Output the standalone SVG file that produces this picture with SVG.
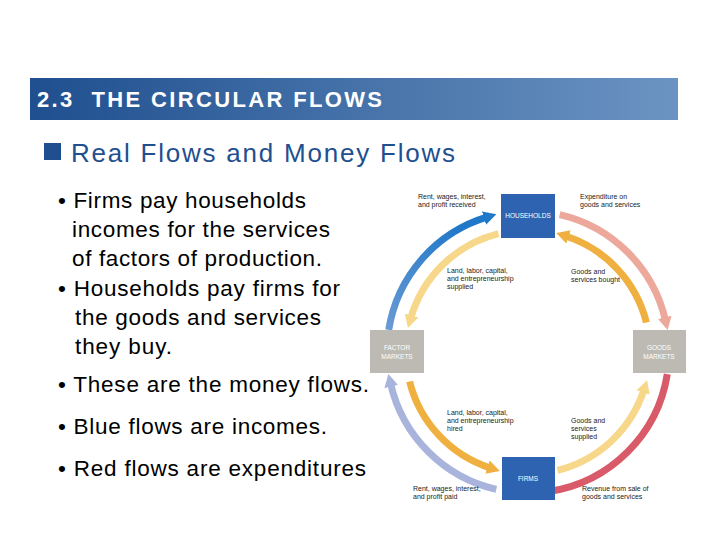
<svg xmlns="http://www.w3.org/2000/svg" width="720" height="540" viewBox="0 0 720 540">
<defs>
<linearGradient id="bar" x1="0" y1="0" x2="1" y2="0"><stop offset="0" stop-color="#1f4f8f"/><stop offset="1" stop-color="#6b94c2"/></linearGradient>
<linearGradient id="blueg" x1="0" y1="1" x2="0.6" y2="0"><stop offset="0" stop-color="#6a9ad4"/><stop offset="1" stop-color="#1f78c8"/></linearGradient>
<marker id="mBlue" markerUnits="userSpaceOnUse" markerWidth="14" markerHeight="14" refX="3" refY="7" orient="auto"><path d="M0,0 L13,7 L0,14 z" fill="#1f78c8"/></marker>
<marker id="mPink" markerUnits="userSpaceOnUse" markerWidth="14" markerHeight="14" refX="3" refY="7" orient="auto"><path d="M0,0 L13,7 L0,14 z" fill="#eda89c"/></marker>
<marker id="mRed" markerUnits="userSpaceOnUse" markerWidth="14" markerHeight="14" refX="3" refY="7" orient="auto"><path d="M0,0 L13,7 L0,14 z" fill="#d95a68"/></marker>
<marker id="mLav" markerUnits="userSpaceOnUse" markerWidth="14" markerHeight="14" refX="3" refY="7" orient="auto"><path d="M0,0 L13,7 L0,14 z" fill="#a8b4dc"/></marker>
<marker id="mLY" markerUnits="userSpaceOnUse" markerWidth="14" markerHeight="14" refX="3" refY="7" orient="auto"><path d="M0,0 L13,7 L0,14 z" fill="#f7d88a"/></marker>
<marker id="mOr" markerUnits="userSpaceOnUse" markerWidth="14" markerHeight="14" refX="3" refY="7" orient="auto"><path d="M0,0 L13,7 L0,14 z" fill="#efb040"/></marker>
</defs>
<style>
.body{font-family:"Liberation Sans",Arial,sans-serif;font-size:22.5px;fill:#000}
.lab{font-family:"Liberation Sans",Arial,sans-serif;font-size:7px;fill:#222}
.box{font-family:"Liberation Sans",Arial,sans-serif;font-size:6.5px;fill:#fff;text-anchor:middle}
.arc{fill:none;stroke-width:7}
</style>
<rect x="0" y="0" width="720" height="540" fill="#fff"/>
<rect x="30" y="78" width="648" height="42" fill="url(#bar)"/>
<text x="37" y="107" font-family="Liberation Sans,Arial,sans-serif" font-size="22" font-weight="bold" fill="#fff" textLength="345" lengthAdjust="spacing" xml:space="preserve">2.3  THE CIRCULAR FLOWS</text>
<rect x="44" y="143" width="17" height="17" fill="#1f4f8f"/>
<text x="71" y="162" font-family="Liberation Sans,Arial,sans-serif" font-size="26" fill="#1f4f8f" textLength="384" lengthAdjust="spacing">Real Flows and Money Flows</text>
<text class="body" x="58" y="208" textLength="248" lengthAdjust="spacing">• Firms pay households</text>
<text class="body" x="72" y="237" textLength="258" lengthAdjust="spacing">incomes for the services</text>
<text class="body" x="72" y="266" textLength="250" lengthAdjust="spacing">of factors of production.</text>
<text class="body" x="58" y="296" textLength="282" lengthAdjust="spacing">• Households pay firms for</text>
<text class="body" x="75" y="325" textLength="246" lengthAdjust="spacing">the goods and services</text>
<text class="body" x="75" y="354" textLength="97" lengthAdjust="spacing">they buy.</text>
<text class="body" x="58" y="392" textLength="311" lengthAdjust="spacing">• These are the money flows.</text>
<text class="body" x="58" y="434" textLength="269" lengthAdjust="spacing">• Blue flows are incomes.</text>
<text class="body" x="58" y="476" textLength="308" lengthAdjust="spacing">• Red flows are expenditures</text>
<g id="connectors">
<path class="arc" stroke="url(#blueg)" marker-end="url(#mBlue)" d="M388.7,329.9 A141,141 0 0 1 486.8,217.2"/>
<path class="arc" stroke="#eda89c" marker-end="url(#mPink)" d="M559.7,214.6 A141,141 0 0 1 665.4,320.3"/>
<path class="arc" stroke="#d95a68" marker-end="url(#mRed)" d="M667.3,374.1 A141,141 0 0 1 550.1,491.3"/>
<path class="arc" stroke="#a8b4dc" marker-end="url(#mLav)" d="M496.3,489.4 A141,141 0 0 1 390.6,383.7"/>
<path class="arc" stroke="#f7d88a" marker-end="url(#mLY)" d="M498.5,233.6 A122,122 0 0 0 410.7,318.4"/>
<path class="arc" stroke="#efb040" marker-end="url(#mOr)" d="M646.4,322.5 A122,122 0 0 0 565.7,236.0"/>
<path class="arc" stroke="#efb040" marker-end="url(#mOr)" d="M409.6,381.5 A122,122 0 0 0 490.3,468.0"/>
<path class="arc" stroke="#f7d88a" marker-end="url(#mLY)" d="M557.5,470.4 A122,122 0 0 0 644.0,389.7"/>
</g>
<g id="households"><rect x="501" y="194" width="54" height="44" fill="#2d63b0"/><text class="box" x="528" y="218">HOUSEHOLDS</text></g>
<g id="firms"><rect x="502" y="457" width="53" height="43" fill="#2d63b0"/><text class="box" x="528" y="481">FIRMS</text></g>
<g id="factor"><rect x="370" y="330" width="54" height="43" fill="#bcbab3"/><text class="box" x="397" y="350">FACTOR</text><text class="box" x="397" y="359">MARKETS</text></g>
<g id="goods"><rect x="633" y="330" width="53" height="43" fill="#bcbab3"/><text class="box" x="659" y="350">GOODS</text><text class="box" x="659" y="359">MARKETS</text></g>
<g id="labels">
<text class="lab" x="418" y="199">Rent, wages, interest,</text><text class="lab" x="418" y="207">and profit received</text>
<text class="lab" x="580" y="199">Expenditure on</text><text class="lab" x="580" y="207">goods and services</text>
<text class="lab" x="447" y="273">Land, labor, capital,</text><text class="lab" x="447" y="281">and entrepreneurship</text><text class="lab" x="447" y="289">supplied</text>
<text class="lab" x="571" y="274">Goods and</text><text class="lab" x="571" y="282">services bought</text>
<text class="lab" x="447" y="415">Land, labor, capital,</text><text class="lab" x="447" y="423">and entrepreneurship</text><text class="lab" x="447" y="431">hired</text>
<text class="lab" x="571" y="423">Goods and</text><text class="lab" x="571" y="431">services</text><text class="lab" x="571" y="439">supplied</text>
<text class="lab" x="413" y="491">Rent, wages, interest,</text><text class="lab" x="413" y="499">and profit paid</text>
<text class="lab" x="582" y="491">Revenue from sale of</text><text class="lab" x="582" y="499">goods and services</text>
</g>
</svg>
